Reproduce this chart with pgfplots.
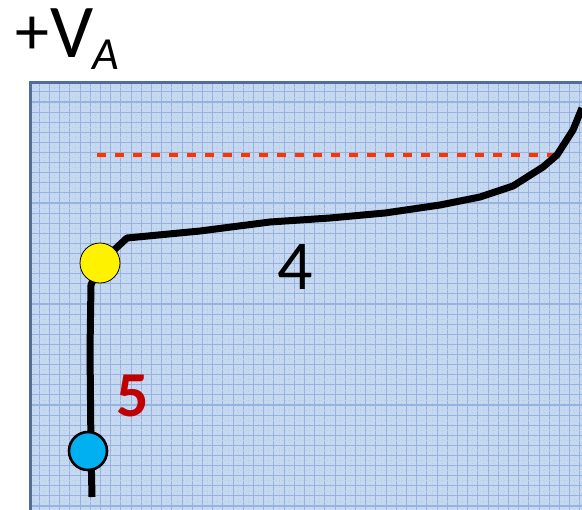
\documentclass[border=0pt]{standalone}
\usepackage{pgfplots}
\pgfplotsset{compat=1.18}
\usepackage{fontspec}
\setmainfont{Carlito}
\definecolor{bgblue}{HTML}{C6D9F1}
\definecolor{gridmaj}{HTML}{95B3DE}
\definecolor{gridmin}{HTML}{B4CBEA}
\definecolor{boxborder}{HTML}{4F6E9E}
\definecolor{dashred}{HTML}{FF3300}
\definecolor{dotblue}{HTML}{00B0F0}
\definecolor{darkred}{HTML}{C00000}
\begin{document}
\begin{tikzpicture}
\begin{axis}[at={(0,0)},anchor=south west,scale only axis,
  width=291pt,height=254.5pt,
  xmin=0,xmax=582,ymin=0,ymax=509,y dir=reverse,
  hide axis,clip=true]
\fill[bgblue] (axis cs:30,82) rectangle (axis cs:600,520);
\pgfplotsinvokeforeach{0,...,55}{
  \draw[gridmin,line width=0.3pt,dash pattern=on 0.5pt off 1pt] (axis cs:{34.1+10.2*#1},82) -- (axis cs:{34.1+10.2*#1},520);
  \draw[gridmaj,line width=0.55pt] (axis cs:{39.3+10.2*#1},82) -- (axis cs:{39.3+10.2*#1},520);
}
\pgfplotsinvokeforeach{0,...,43}{
  \draw[gridmin,line width=0.3pt,dash pattern=on 0.5pt off 1pt] (axis cs:30,{86.8+10.1*#1}) -- (axis cs:600,{86.8+10.1*#1});
  \draw[gridmaj,line width=0.55pt] (axis cs:30,{91.9+10.1*#1}) -- (axis cs:600,{91.9+10.1*#1});
}
\draw[boxborder,line width=1.5pt] (axis cs:30,530) -- (axis cs:30,82) -- (axis cs:600,82);
\addplot[dashred,line width=1.75pt,dash pattern=on 4.5pt off 4.5pt] coordinates {(97,155) (555,155)};
\addplot[black,line width=3.5pt,line join=round] coordinates {
(92,497) (91,450) (90,350) (91,285) (100,263) (127,238) (200,231) (270,222) (330,218)
(385,213) (440,205) (480,197) (513,186) (543,167) (557,155) (573,130) (582,108)};
\addplot[only marks,mark=*,mark size=10pt,mark options={fill=yellow,draw=none}] coordinates {(100,263)};
\addplot[only marks,mark=*,mark size=9.5pt,mark options={fill=dotblue,draw=black,line width=1.3pt}] coordinates {(88,451)};
\node[font=\fontsize{35}{40}\selectfont] at (axis cs:295,267) {4};
\node[font=\fontsize{32}{36}\selectfont\bfseries,text=darkred] at (axis cs:133,396) {5};
\node[font=\fontsize{34}{40}\selectfont] at (axis cs:32,36) {+};
\node[font=\fontsize{38}{42}\selectfont] at (axis cs:72,33) {V};
\node[font=\fontsize{23}{26}\selectfont\itshape] at (axis cs:106,55) {A};
\end{axis}
\pgfresetboundingbox
\path (0,0) rectangle (291pt,254.5pt);
\end{tikzpicture}
\end{document}
